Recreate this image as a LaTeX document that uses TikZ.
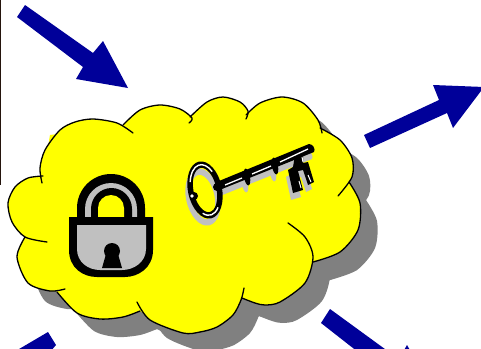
\documentclass[tikz,border=0pt]{standalone}
\usepackage{amsmath}
\definecolor{arrowblue}{RGB}{0,0,153}
\definecolor{cloudyellow}{RGB}{255,255,0}
\definecolor{cloudgray}{RGB}{128,128,128}
\definecolor{lockgray}{RGB}{192,192,192}
\definecolor{edgedark}{RGB}{36,20,12}
\tikzset{bigarrow/.style={fill=arrowblue, draw=none}}
\tikzset{lobeline/.style={draw=black, line width=1.3pt, line cap=round}}
\newcommand{\lobeA}{(42,183) (40,168) (45,150) (60,130) (75,122) (93,119) (117,123) (133,133)}
\newcommand{\lobeB}{(123,125) (140,110) (160,105) (180,109) (192,118) (189,123)}
\newcommand{\lobeC}{(190,117) (207,102) (223,97) (240,102) (248,111) (246,119)}
\newcommand{\lobeD}{(246,115) (260,103) (282,97) (303,103) (318,120) (322,133)}
\newcommand{\lobeE}{(320,128) (340,140) (352,158) (352,177) (338,196)}
\newcommand{\lobeF}{(349,182) (360,203) (358,230) (340,252) (313,262)}
\newcommand{\lobeG}{(288,223) (305,237) (313,257) (305,283) (280,302) (265,305) (255,303) (242,298)}
\newcommand{\lobeH}{(137,302) (150,320) (183,333) (200,332) (217,327) (233,315) (241,300) (244,288)}
\newcommand{\lobeI}{(140,311) (123,317) (100,319) (77,313) (57,292)}
\newcommand{\lobeJ}{(65,289) (50,291) (28,283) (17,257) (25,237)}
\newcommand{\lobeK}{(47,242) (25,237) (12,222) (8,203) (15,187) (28,178) (43,176)}
\newcommand{\cloudfill}[1]{
\fill[#1] plot[smooth] coordinates {\lobeA};
\fill[#1] plot[smooth] coordinates {\lobeB};
\fill[#1] plot[smooth] coordinates {\lobeC};
\fill[#1] plot[smooth] coordinates {\lobeD};
\fill[#1] plot[smooth] coordinates {\lobeE};
\fill[#1] plot[smooth] coordinates {\lobeF};
\fill[#1] plot[smooth] coordinates {\lobeG};
\fill[#1] plot[smooth] coordinates {\lobeH};
\fill[#1] plot[smooth] coordinates {\lobeI};
\fill[#1] plot[smooth] coordinates {\lobeJ};
\fill[#1] plot[smooth] coordinates {\lobeK};
\fill[#1] (43,176) -- (50,135) -- (123,125) -- (191,116) -- (246,115) -- (320,128) -- (349,182) -- (340,252) -- (313,262) -- (267,305) -- (242,298) -- (217,327) -- (183,333) -- (140,311) -- (100,319) -- (57,292) -- (25,237) -- cycle;
}
\newcommand{\keyblade}{(219,181) -- (309,144) to[out=0,in=60] (314,152) -- (222,189) -- cycle}
\newcommand{\keybit}{(295,155) -- (303,155) -- (303,163) -- (308,162) -- (314,182) -- (308,185) -- (303,170) -- (298,171) -- (303,190) -- (293,193) -- (288,170) -- (293,167) -- cycle}
\newcommand{\keyparts}[1]{
\fill[#1, even odd rule] (205,190) ellipse[x radius=17, y radius=29, rotate=12] (205,190) ellipse[x radius=11.5, y radius=22.5, rotate=12];
\fill[#1] \keyblade;
\fill[#1] \keybit;
\fill[#1] (247,177) ellipse[x radius=3, y radius=8.5, rotate=10];
\fill[#1] (275,166) ellipse[x radius=3, y radius=8.5, rotate=10];
}
\begin{document}
\begin{tikzpicture}[x=1pt,y=-1pt]
\useasboundingbox (0,0) rectangle (481,348);
\clip (0,0) rectangle (481,348);

\fill[edgedark] (0,0) rectangle (1.2,185);

% arrows
\fill[bigarrow] (25,5) -- (17,17) -- (83,67) -- (76,79) -- (128,88) -- (103,41) -- (93,53) -- cycle;
\fill[bigarrow] (364,135) -- (370,148) -- (447,113) -- (453,128) -- (484,87) -- (433,85) -- (439,100) -- cycle;
\fill[bigarrow] (48,332) -- (56,345) -- (50,352) -- (14,352) -- cycle;
\fill[bigarrow] (330,309) -- (321,323) -- (358,352) -- (389,352) -- cycle;
\fill[bigarrow] (407,345) -- (403,352) -- (411,352) -- cycle;

% cloud
\begin{scope}[shift={(17,18)}]
\cloudfill{cloudgray}
\end{scope}
\cloudfill{cloudyellow}
\draw[lobeline] plot[smooth] coordinates {\lobeA};
\draw[lobeline] plot[smooth] coordinates {\lobeB};
\draw[lobeline] plot[smooth] coordinates {\lobeC};
\draw[lobeline] plot[smooth] coordinates {\lobeD};
\draw[lobeline] plot[smooth] coordinates {\lobeE};
\draw[lobeline] plot[smooth] coordinates {\lobeF};
\draw[lobeline] plot[smooth] coordinates {\lobeG};
\draw[lobeline] plot[smooth] coordinates {\lobeH};
\draw[lobeline] plot[smooth] coordinates {\lobeI};
\draw[lobeline] plot[smooth] coordinates {\lobeJ};
\draw[lobeline] plot[smooth] coordinates {\lobeK};

% lock
\fill[black] (77,220) -- (77,208) arc[start angle=180, end angle=360, x radius=34, y radius=34] -- (145,220) -- cycle;
\fill[lockgray] (85,220) -- (85,209) arc[start angle=180, end angle=360, x radius=26, y radius=26] -- (137,220) -- cycle;
\fill[black] (91,220) -- (91,209) arc[start angle=180, end angle=360, x radius=20.5, y radius=21] -- (132,220) -- cycle;
\fill[cloudyellow] (98,217) -- (98,208) arc[start angle=180, end angle=360, x radius=13, y radius=13] -- (124,217) -- cycle;
\fill[black] (69,217) -- (153,217) -- (153,250) .. controls (153,268) and (138,277) .. (125,277) -- (97,277) .. controls (83,277) and (69,268) .. (69,250) -- cycle;
\fill[lockgray] (77,225) -- (146,225) -- (146,249) .. controls (146,262) and (134,270) .. (122,270) -- (100,270) .. controls (88,270) and (77,262) .. (77,249) -- cycle;
\fill[black] (112,251) circle (8);
\fill[black] (106,254) -- (118,254) -- (122,268) -- (102,268) -- cycle;

% key
\begin{scope}[shift={(-2,7)}]
\keyparts{lockgray}
\end{scope}
\keyparts{black}
\fill[black] (194,196) circle (4);
\fill[black] (217,187) circle (4);
\begin{scope}[shift={(205,190)}, rotate=12]
\draw[white, line width=1.4pt] (205:14.2 and 25.7) arc[start angle=205, end angle=320, x radius=14.2, y radius=25.7];
\draw[white, line width=1.4pt] (50:14.2 and 25.7) arc[start angle=50, end angle=120, x radius=14.2, y radius=25.7];
\end{scope}
\fill[white] (192,196) circle (1.8);
\draw[white, line width=1.3pt] (225,185) -- (242,178);
\draw[white, line width=1.3pt] (252,174) -- (271,166);
\draw[white, line width=1.3pt] (280,162) -- (308,149);
\draw[white, line width=1pt] (302,157) -- (303,162);
\draw[white, line width=1pt] (299,181) -- (301,188);
\draw[white, line width=1pt] (308,175) -- (311,182);

\end{tikzpicture}
\end{document}
